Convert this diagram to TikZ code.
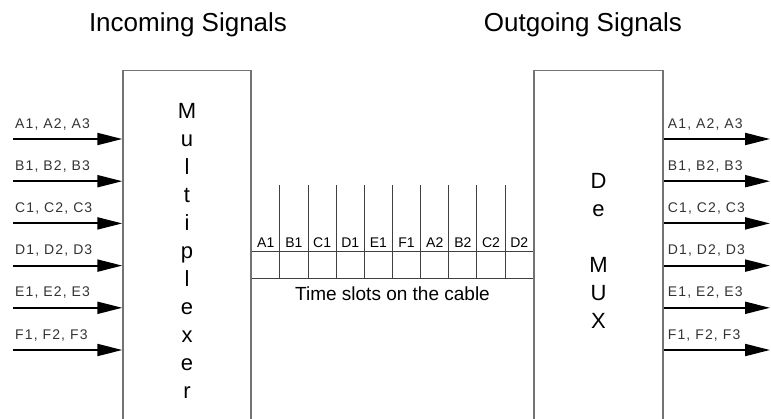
\documentclass[tikz,border=0pt]{standalone}
\usepackage{fontspec}
\setmainfont{Liberation Sans}
\newfontfamily\sigfont[LetterSpace=8]{Liberation Sans}
\usetikzlibrary{arrows.meta,calc}

\begin{document}
\begin{tikzpicture}[x=1pt,y=-1pt,
  box/.style={draw=black!55,line width=1.4pt,minimum width=128pt,minimum height=360pt,
    inner sep=0pt,align=center,font=\fontsize{22}{28}\selectfont},
  sig/.style={line width=2pt,-{Triangle[length=25pt,width=12pt]}},
  siglabel/.style={anchor=base west,inner sep=0pt,text=black!80,font=\sigfont\fontsize{14}{14}\selectfont},
  slotlabel/.style={anchor=base,inner sep=0pt,font=\fontsize{14}{14}\selectfont},
  cable/.style={draw=black!75,line width=1pt},
  title/.style={anchor=base,inner sep=0pt,font=\fontsize{26}{26}\selectfont}]

\useasboundingbox (0,0) rectangle (771,418);
\clip (0,0) rectangle (771,418);

% Titles above the two boxes
\node[title] (intitle) at (188,31) {Incoming Signals};
\node[title] (outtitle) at (583,31) {Outgoing Signals};

% Multiplexer and DeMUX boxes (cut off at the bottom)
\node[box,anchor=north] (mux) at (187,70) {M\\u\\l\\t\\i\\p\\l\\e\\x\\e\\r};
\node[box,anchor=north,minimum width=129pt] (demux) at (598.5,70) {D\\e\\~\\M\\U\\X};

% Incoming and outgoing signal arrows
\foreach \s [count=\i] in {A,B,C,D,E,F} {
  \coordinate (in\s) at (13,{139+(\i-1)*42.2});
  \coordinate (out\s) at (770,{139+(\i-1)*42.2});
  \draw[sig] (in\s) -- (mux.west |- in\s);
  \draw[sig] (demux.east |- out\s) -- (out\s);
  \node[siglabel] (inlab\s) at ($(in\s)+(2,-11)$) {\s1, \s2, \s3};
  \node[siglabel] (outlab\s) at ($(demux.east |- out\s)+(4,-11)$) {\s1, \s2, \s3};
}

% Cable between the boxes
\coordinate (cabletop) at (0,251);
\coordinate (cablebot) at (0,278);
\coordinate (ticktop) at (0,185);
\draw[cable] (mux.east |- cabletop) -- (demux.west |- cabletop);
\draw[cable] (mux.east |- cablebot) -- (demux.west |- cablebot);

% Time slots
\foreach \t [count=\i] in {A1,B1,C1,D1,E1,F1,A2,B2,C2,D2} {
  \coordinate (slot\i) at ($(mux.east)!{(\i-0.5)/10}!(demux.west)$);
  \node[slotlabel] (slotlab\i) at ($(slot\i |- cabletop)+(0,-4)$) {\t};
}
\foreach \i in {1,...,9} {
  \coordinate (tick\i) at ($(mux.east)!{\i/10}!(demux.west)$);
  \draw[cable] (tick\i |- ticktop) -- (tick\i |- cablebot);
}

\node[anchor=base,inner sep=0pt,font=\fontsize{19}{19}\selectfont] (cablelab) at ($(mux.east |- 0,300)!0.5!(demux.west |- 0,300)$) {Time slots on the cable};
\end{tikzpicture}
\end{document}
